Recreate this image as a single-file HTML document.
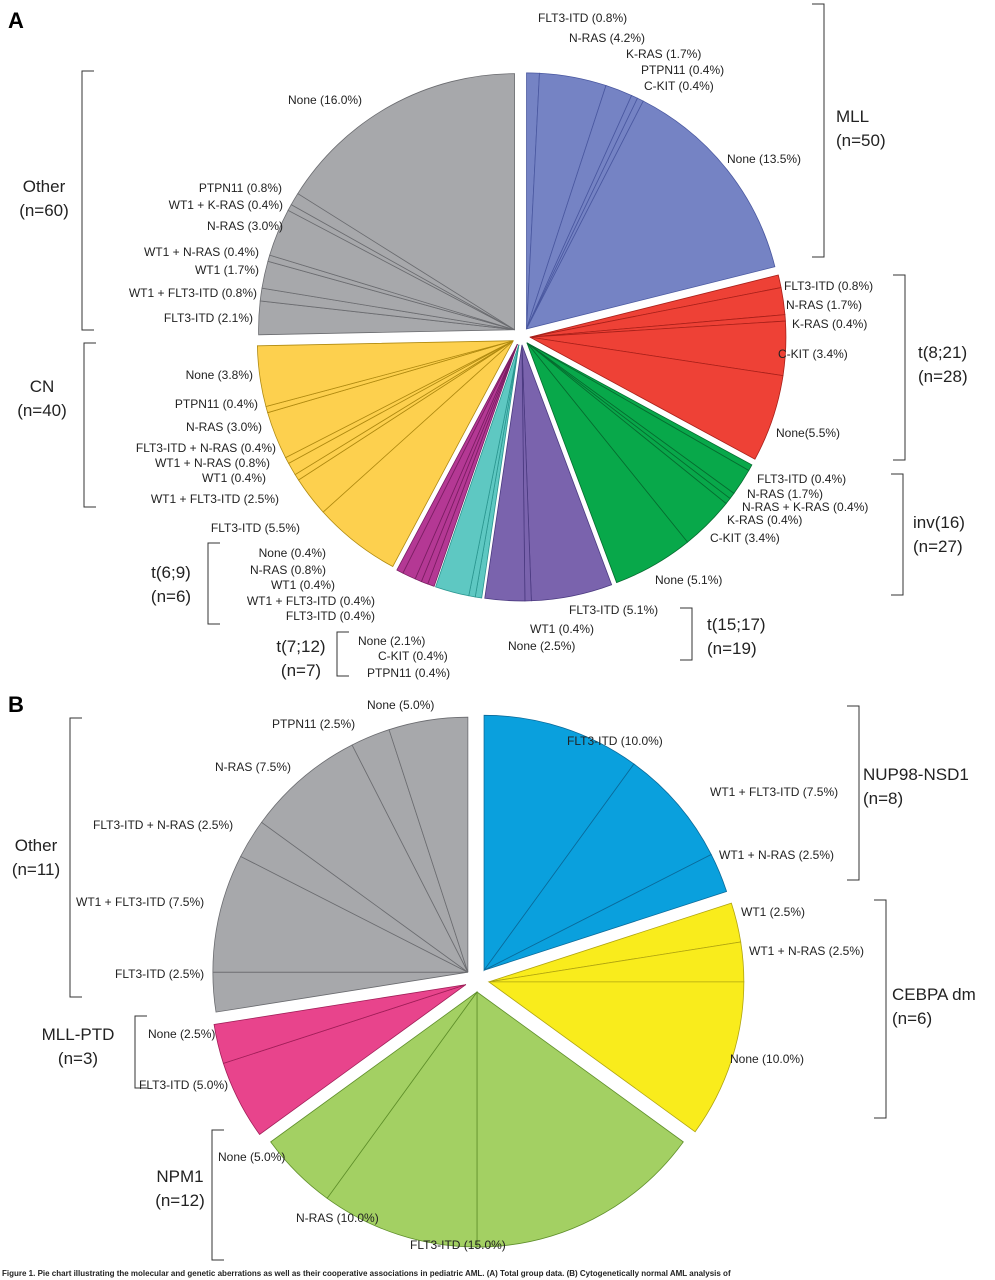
<!DOCTYPE html>
<html><head><meta charset="utf-8"><style>
body{margin:0;background:#fff}
svg{display:block;font-family:"Liberation Sans",sans-serif}
.l{font-size:12px;fill:#222}
.g{font-size:17px;fill:#222}
</style></head><body>
<svg id="chart" width="995" height="1280" viewBox="0 0 995 1280">
<text x="8" y="28" font-size="22" font-weight="bold">A</text>
<text x="8" y="712" font-size="22" font-weight="bold">B</text>
<g id="pieA"></g>
<g id="pieB"></g>
<g id="labels"></g>
<text x="2" y="1276" font-size="8" font-weight="bold" fill="#222">Figure 1. Pie chart illustrating the molecular and genetic aberrations as well as their cooperative associations in pediatric AML. (A) Total group data. (B) Cytogenetically normal AML analysis of</text>
</svg>
<script>
// Panel A data
const groupsA = ["MLL","t(8;21)","inv(16)","t(15;17)","t(7;12)","t(6;9)","CN","Other"];
const countsA = [50,28,27,19,7,6,40,60];
const colorsA = ["#7583c4","#ee4136","#08a84a","#7a63ad","#5ec8c2","#b43894","#fdd04e","#a7a8ab"];
const strokesA = ["#4a58a0","#a8201a","#066b2f","#4b3a80","#2b9690","#7a1e62","#b08a10","#6b6c70"];
const subsA = [
 [0.8,4.2,1.7,0.4,0.4,13.5],
 [0.8,1.7,0.4,3.4,5.5],
 [0.4,1.7,0.4,0.4,3.4,5.1],
 [5.1,0.4,2.5],
 [0.4,0.4,2.1],
 [0.4,0.4,0.4,0.8,0.4],
 [5.5,2.5,0.4,0.8,0.4,3.0,0.4,3.8],
 [2.1,0.8,1.7,0.4,3.0,0.4,0.8,16.0]
];
// Panel B data
const groupsB = ["NUP98-NSD1","CEBPA dm","NPM1","MLL-PTD","Other"];
const countsB = [8,6,12,3,11];
const colorsB = ["#0aa0dd","#f9ec1c","#a3d063","#e8448c","#a7a8ab"];
const strokesB = ["#0a6a9a","#b0a410","#5f8f2a","#a01e58","#6b6c70"];
const subsB = [
 [10,7.5,2.5],
 [2.5,2.5,10],
 [15,10,5],
 [5,2.5],
 [2.5,7.5,2.5,7.5,2.5,5]
];
const NS="http://www.w3.org/2000/svg";
function pt(cx,cy,r,a){const t=a*Math.PI/180;return [cx+r*Math.sin(t),cy-r*Math.cos(t)];}
function drawPie(gid,cx,cy,r,off,counts,subs,colors,strokes,names){
  const g=document.getElementById(gid);
  const tot=counts.reduce((a,b)=>a+b,0);
  let start=0;
  counts.forEach((c,i)=>{
    const sweep=c/tot*360;
    const mid=start+sweep/2;
    const [ox,oy]=pt(0,0,off,mid);
    const gx=cx+ox, gy=cy+oy;
    const grp=document.createElementNS(NS,"g");
    
    
    const sTot=subs[i].reduce((a,b)=>a+b,0);
    let a0=start;
    subs[i].forEach((s,j)=>{
      const sw=s/sTot*sweep;
      const p0=pt(gx,gy,r,a0), p1=pt(gx,gy,r,a0+sw);
      const path=document.createElementNS(NS,"path");
      path.setAttribute("d",`M${gx},${gy}L${p0[0]},${p0[1]}A${r},${r} 0 ${sw>180?1:0} 1 ${p1[0]},${p1[1]}Z`);
      path.setAttribute("fill",colors[i]);
      path.setAttribute("stroke",strokes[i]);
      path.setAttribute("stroke-width","0.8");
      
      
      grp.appendChild(path);
      a0+=sw;
    });
    g.appendChild(grp);
    start+=sweep;
  });
}
drawPie("pieA",521,336,256,9,countsA,subsA,colorsA,strokesA,groupsA);
drawPie("pieB",477,980,255,12,countsB,subsB,colorsB,strokesB,groupsB);

const labels=[
["FLT3-ITD (0.8%)",538,22,"start"],["N-RAS (4.2%)",569,42,"start"],["K-RAS (1.7%)",626,58,"start"],["PTPN11 (0.4%)",641,74,"start"],["C-KIT (0.4%)",644,90,"start"],["None (13.5%)",727,163,"start"],
["None (16.0%)",288,104,"start"],["PTPN11 (0.8%)",282,192,"end"],["WT1 + K-RAS (0.4%)",283,209,"end"],["N-RAS (3.0%)",283,230,"end"],["WT1 + N-RAS (0.4%)",259,256,"end"],["WT1 (1.7%)",259,274,"end"],["WT1 + FLT3-ITD (0.8%)",257,297,"end"],["FLT3-ITD (2.1%)",253,322,"end"],
["None (3.8%)",253,379,"end"],["PTPN11 (0.4%)",258,408,"end"],["N-RAS (3.0%)",262,431,"end"],["FLT3-ITD + N-RAS (0.4%)",276,452,"end"],["WT1 + N-RAS (0.8%)",270,467,"end"],["WT1 (0.4%)",266,482,"end"],["WT1 + FLT3-ITD (2.5%)",279,503,"end"],["FLT3-ITD (5.5%)",300,532,"end"],
["None (0.4%)",326,557,"end"],["N-RAS (0.8%)",326,574,"end"],["WT1 (0.4%)",335,589,"end"],["WT1 + FLT3-ITD (0.4%)",375,605,"end"],["FLT3-ITD (0.4%)",375,620,"end"],
["None (2.1%)",358,645,"start"],["C-KIT (0.4%)",378,660,"start"],["PTPN11 (0.4%)",367,677,"start"],
["FLT3-ITD (5.1%)",569,614,"start"],["WT1 (0.4%)",530,633,"start"],["None (2.5%)",508,650,"start"],
["FLT3-ITD (0.4%)",757,483,"start"],["N-RAS (1.7%)",747,498,"start"],["N-RAS + K-RAS (0.4%)",742,511,"start"],["K-RAS (0.4%)",727,524,"start"],["C-KIT (3.4%)",710,542,"start"],["None (5.1%)",655,584,"start"],
["FLT3-ITD (0.8%)",784,290,"start"],["N-RAS (1.7%)",786,309,"start"],["K-RAS (0.4%)",792,328,"start"],["C-KIT (3.4%)",778,358,"start"],["None(5.5%)",776,437,"start"],
["None (5.0%)",367,709,"start"],["PTPN11 (2.5%)",272,728,"start"],["N-RAS (7.5%)",215,771,"start"],["FLT3-ITD + N-RAS (2.5%)",93,829,"start"],["WT1 + FLT3-ITD (7.5%)",76,906,"start"],["FLT3-ITD (2.5%)",115,978,"start"],
["FLT3-ITD (10.0%)",567,745,"start"],["WT1 + FLT3-ITD (7.5%)",710,796,"start"],["WT1 + N-RAS (2.5%)",719,859,"start"],
["WT1 (2.5%)",741,916,"start"],["WT1 + N-RAS (2.5%)",749,955,"start"],["None (10.0%)",730,1063,"start"],
["None (2.5%)",148,1038,"start"],["FLT3-ITD (5.0%)",139,1089,"start"],
["None (5.0%)",218,1161,"start"],["N-RAS (10.0%)",296,1222,"start"],["FLT3-ITD (15.0%)",410,1249,"start"]
];
// group labels: [line1,line2,x,y,anchor, bracketX, y1, y2, tickDir]
const groupLabels=[
["MLL","(n=50)",836,122,"start",824,4,257,-1],
["t(8;21)","(n=28)",918,358,"start",905,275,460,-1],
["inv(16)","(n=27)",913,528,"start",903,474,595,-1],
["t(15;17)","(n=19)",707,630,"start",692,608,660,-1],
["t(7;12)","(n=7)",301,652,"middle",337,632,676,1],
["t(6;9)","(n=6)",171,578,"middle",208,543,624,1],
["CN","(n=40)",42,392,"middle",84,343,507,1],
["Other","(n=60)",44,192,"middle",82,71,330,1],
["NUP98-NSD1","(n=8)",863,780,"start",859,706,880,-1],
["CEBPA dm","(n=6)",892,1000,"start",886,900,1118,-1],
["Other","(n=11)",36,851,"middle",70,718,997,1],
["MLL-PTD","(n=3)",78,1040,"middle",135,1016,1088,1],
["NPM1","(n=12)",180,1182,"middle",212,1130,1260,1]
];
const L=document.getElementById("labels");
labels.forEach(l=>{
  const t=document.createElementNS(NS,"text");
  t.setAttribute("x",l[1]);t.setAttribute("y",l[2]);t.setAttribute("text-anchor",l[3]);t.setAttribute("class","l");
  t.textContent=l[0];
  
  
  L.appendChild(t);
});
groupLabels.forEach(g=>{
  [g[0],g[1]].forEach((s,k)=>{
    const t=document.createElementNS(NS,"text");
    t.setAttribute("x",g[2]);t.setAttribute("y",g[3]+k*24);t.setAttribute("text-anchor",g[4]);t.setAttribute("class","g");
    t.textContent=s;
    
    
    L.appendChild(t);
  });
  const p=document.createElementNS(NS,"path");
  const x=g[5],d=g[8]*12;
  p.setAttribute("d",`M${x+d},${g[6]}H${x}V${g[7]}H${x+d}`);
  p.setAttribute("fill","none");p.setAttribute("stroke","#333");p.setAttribute("stroke-width","1");
  
  
  L.appendChild(p);
});
</script>
</body></html>
